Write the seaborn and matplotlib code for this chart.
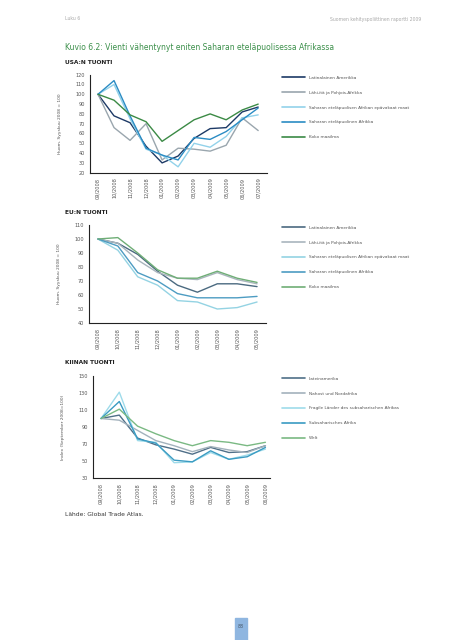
import pandas as pd
import matplotlib
matplotlib.use("Agg")
import matplotlib.pyplot as plt
import seaborn as sns
from matplotlib.lines import Line2D
from matplotlib.patches import Rectangle

sns.set_style("white")
plt.rcParams['font.family'] = ['Liberation Sans Narrow', 'DejaVu Sans']

# --- data ---
usa_months = ["09/2008", "10/2008", "11/2008", "12/2008", "01/2009", "02/2009",
              "03/2009", "04/2009", "05/2009", "06/2009", "07/2009"]
usa_latam = [100, 78, 71, 47, 30, 37, 55, 65, 66, 82, 87]
usa_mena = [100, 66, 53, 70, 33, 45, 44, 42, 48, 76, 63]
usa_fragile = [100, 110, 75, 44, 38, 26, 50, 46, 57, 76, 79]
usa_ssa = [100, 114, 78, 45, 38, 33, 56, 54, 62, 74, 86]
usa_world = [100, 94, 79, 72, 52, 63, 74, 80, 74, 84, 90]

eu_months = usa_months[:9]
eu_latam = [100, 97, 89, 77, 67, 62, 68, 68, 66]
eu_mena = [100, 97, 85, 76, 72, 71, 76, 71, 68]
eu_fragile = [100, 92, 73, 67, 56, 55, 50, 51, 55]
eu_ssa = [100, 95, 76, 70, 61, 58, 58, 58, 59]
eu_world = [100, 101, 90, 78, 72, 72, 77, 72, 69]

cn_months = usa_months[:10]
cn_latam = [100, 104, 77, 69, 64, 58, 66, 60, 61, 68]
cn_mena = [100, 98, 86, 74, 68, 61, 67, 63, 60, 68]
cn_fragile = [100, 131, 74, 72, 48, 49, 60, 52, 57, 64]
cn_ssa = [100, 120, 76, 71, 51, 49, 62, 52, 55, 66]
cn_world = [100, 111, 91, 82, 74, 68, 74, 72, 68, 72]

fi_labels = ["Latinalainen Amerikka", "Lähi-itä ja Pohjois-Afrikka",
             "Saharan eteläpuolisen Afrikan epävakaat maat",
             "Saharan eteläpuolinen Afrikka", "Koko maailma"]
de_labels = ["Lateinamerika", "Nahost und Nordafrika",
             "Fragile Länder des subsaharischen Afrikas",
             "Subsaharisches Afrika", "Welt"]

usa_colors = ["#1d3a66", "#9aa6ae", "#92d2ea", "#2b8cc4", "#3b8a45"]
eu_colors = ["#4b6a80", "#a9b5bd", "#94d3e3", "#4d9cc2", "#6fae76"]
cn_colors = ["#4f6f88", "#a3b2bc", "#9edbea", "#3a9bc2", "#7ab983"]

grey = "#555555"


def long_df(months, series, labels):
    rows = []
    for lab, vals in zip(labels, series):
        for i, v in enumerate(vals):
            rows.append({"idx": i, "value": v, "serie": lab})
    return pd.DataFrame(rows)


fig = plt.figure(figsize=(4.53, 6.40), dpi=100)


def panel(rect, months, series, labels, colors, ylim, yticks, xlim, ylabel,
          leg_anchor):
    ax = fig.add_axes(rect)
    df = long_df(months, series, labels)
    sns.lineplot(data=df, x="idx", y="value", hue="serie", palette=colors,
                 hue_order=labels, linewidth=1.0, legend=False, ax=ax)
    ax.set_xlim(*xlim)
    ax.set_ylim(*ylim)
    ax.set_yticks(yticks)
    ax.set_yticklabels([str(t) for t in yticks], fontsize=3.6, color=grey)
    ax.set_xticks(range(len(months)))
    ax.set_xticklabels(months, rotation=90, fontsize=3.6, color=grey)
    ax.tick_params(axis='both', direction='inout', length=3, width=0.6,
                   color="#222222", pad=2)
    ax.set_xlabel("")
    ax.set_ylabel(ylabel, fontsize=3.2, color=grey, labelpad=10)
    for s in ["top", "right"]:
        ax.spines[s].set_visible(False)
    for s in ["left", "bottom"]:
        ax.spines[s].set_linewidth(0.8)
        ax.spines[s].set_color("#222222")
    handles = [Line2D([0], [0], color=c, lw=1.2) for c in colors]
    fig.legend(handles, labels, loc="upper left", bbox_to_anchor=leg_anchor,
               bbox_transform=fig.transFigure, frameon=False, fontsize=3.1,
               handlelength=5.4, handletextpad=0.8, labelspacing=2.55,
               labelcolor=grey, borderaxespad=0, borderpad=0)
    return ax


panel([90 / 453, 1 - 172.7 / 640, 177 / 453, 98 / 640], usa_months,
      [usa_latam, usa_mena, usa_fragile, usa_ssa, usa_world], fi_labels,
      usa_colors, (20, 120), list(range(20, 121, 10)), (-0.5, 10.55),
      "Huom. Syyskuu 2008 = 100", (282 / 453, 1 - 75.5 / 640))

panel([89 / 453, 1 - 323 / 640, 177 / 453, 98 / 640], eu_months,
      [eu_latam, eu_mena, eu_fragile, eu_ssa, eu_world], fi_labels,
      eu_colors, (40, 110), list(range(40, 111, 10)), (-0.45, 8.45),
      "Huom. Syyskuu 2008 = 100", (282 / 453, 1 - 225.5 / 640))

panel([93 / 453, 1 - 478 / 640, 177 / 453, 102 / 640], cn_months,
      [cn_latam, cn_mena, cn_fragile, cn_ssa, cn_world], de_labels,
      cn_colors, (30, 150), list(range(30, 151, 20)), (-0.44, 9.25),
      "Index (September 2008=100)", (282 / 453, 1 - 376.5 / 640))

# texts
fig.text(65 / 453, 1 - 19 / 640, "Luku 6", fontsize=3.3, color="#aaaaaa",
         va="center")
fig.text(421 / 453, 1 - 19 / 640, "Suomen kehityspoliittinen raportti 2009",
         fontsize=3.3, color="#aaaaaa", va="center", ha="right")
fig.text(65 / 453, 1 - 47 / 640,
         "Kuvio 6.2: Vienti vähentynyt eniten Saharan eteläpuolisessa Afrikassa",
         fontsize=5.5, color="#3b8f4a", va="center")
fig.text(65 / 453, 1 - 62 / 640, "USA:N TUONTI", fontsize=4.2, weight="bold",
         color="#222222", va="center")
fig.text(65 / 453, 1 - 212 / 640, "EU:N TUONTI", fontsize=4.2, weight="bold",
         color="#222222", va="center")
fig.text(65 / 453, 1 - 363 / 640, "KIINAN TUONTI", fontsize=4.2, weight="bold",
         color="#222222", va="center")
fig.text(65 / 453, 1 - 514 / 640, "Lähde: Global Trade Atlas.", fontsize=4.3,
         color="#333333", va="center")

# page number box
fig.patches.append(Rectangle((235 / 453, 0), 12 / 453, 22 / 640,
                             transform=fig.transFigure, color="#8fb6e0",
                             zorder=0))
fig.text(241 / 453, 13 / 640, "88", fontsize=3.3, color="#445566",
         ha="center", va="center")

fig.savefig("out.png", dpi=100)
